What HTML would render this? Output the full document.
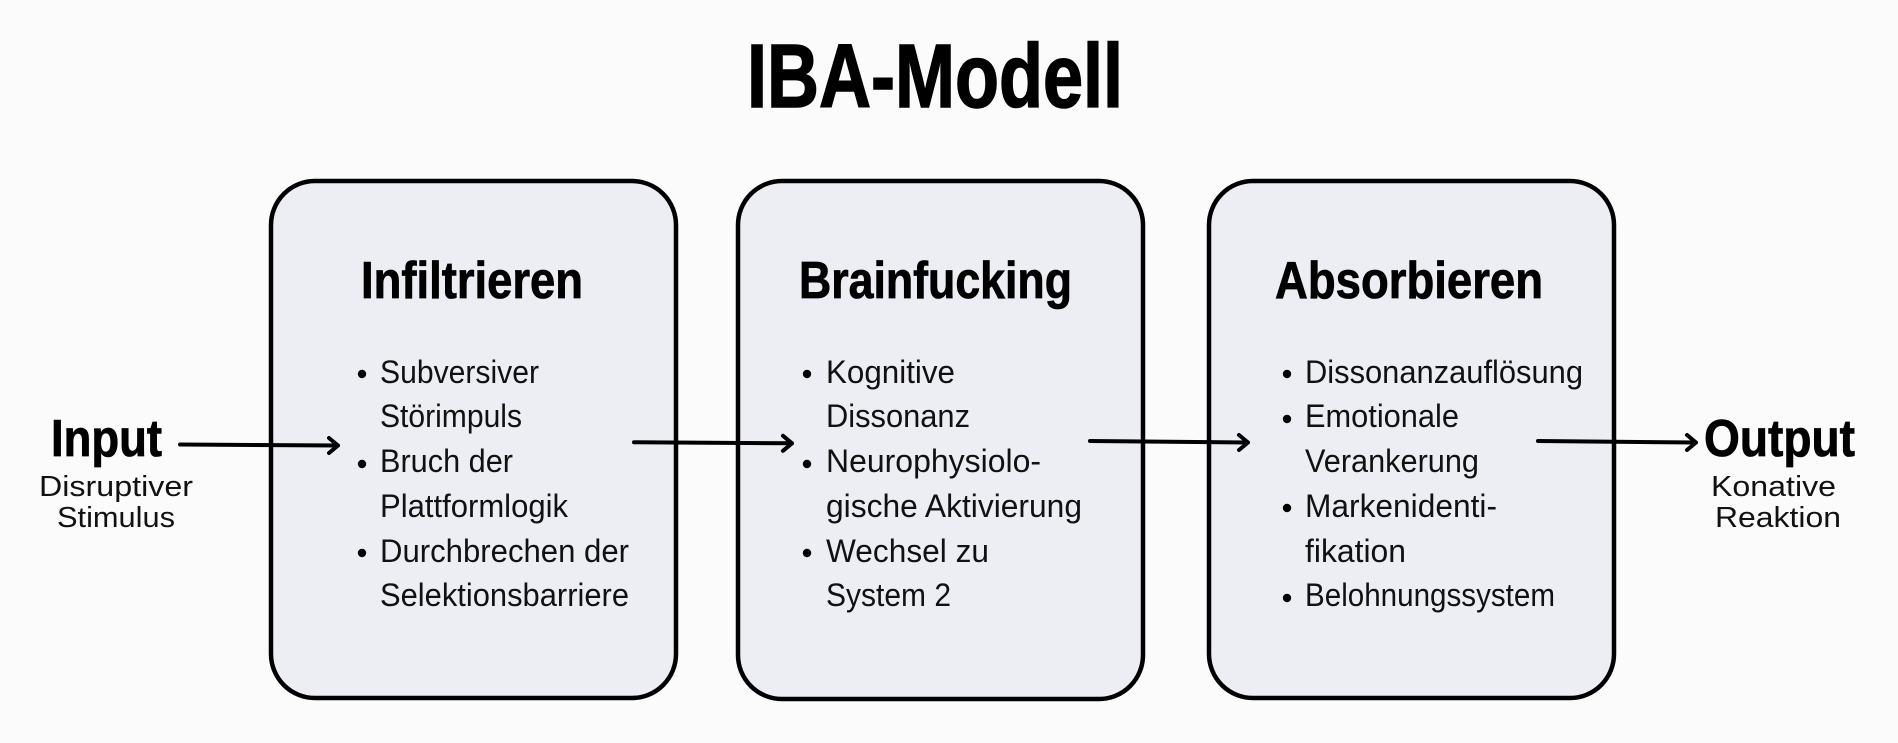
<!DOCTYPE html>
<html lang="de">
<head>
<meta charset="utf-8">
<title>IBA-Modell</title>
<style>
html,body{margin:0;padding:0;background:#fbfbfc;width:1898px;height:743px;overflow:hidden}
svg{display:block}
text{font-family:"Liberation Sans",sans-serif;fill:#000}
.t{font-weight:700;font-size:90px;stroke:#000;stroke-width:1.5}
.h{font-weight:700;font-size:52px;stroke:#000;stroke-width:.8}
.b{font-size:32px;fill:#111}
.s{font-size:29px;fill:#111}
.box{fill:#edeef4;stroke:#000;stroke-width:4.5}
.ar{fill:none;stroke:#000;stroke-width:4;stroke-linecap:round;stroke-linejoin:round}
</style>
</head>
<body>
<svg width="1898" height="743" viewBox="0 0 1898 743" xmlns="http://www.w3.org/2000/svg">
<rect width="1898" height="743" fill="#fbfbfc"/>

<text class="t" x="747" y="107" textLength="376" lengthAdjust="spacingAndGlyphs">IBA-Modell</text>

<rect class="box" x="271" y="181" width="405" height="517" rx="44"/>
<rect class="box" x="738" y="181" width="405" height="518" rx="44"/>
<rect class="box" x="1209" y="181" width="405" height="517" rx="44"/>

<text class="h" x="361" y="298" textLength="222" lengthAdjust="spacingAndGlyphs">Infiltrieren</text>
<text class="h" x="799" y="298" textLength="273" lengthAdjust="spacingAndGlyphs">Brainfucking</text>
<text class="h" x="1275" y="298" textLength="268" lengthAdjust="spacingAndGlyphs">Absorbieren</text>

<g fill="#000">
<circle cx="362" cy="374" r="4.2"/><circle cx="362" cy="464" r="4.2"/><circle cx="362" cy="553" r="4.2"/>
<circle cx="807" cy="374" r="4.2"/><circle cx="807" cy="464" r="4.2"/><circle cx="807" cy="553" r="4.2"/>
<circle cx="1287" cy="374" r="4.2"/><circle cx="1287" cy="419" r="4.2"/><circle cx="1287" cy="508" r="4.2"/><circle cx="1287" cy="598" r="4.2"/>
</g>

<text class="b" x="380" y="383" textLength="159" lengthAdjust="spacingAndGlyphs">Subversiver</text>
<text class="b" x="380" y="427" textLength="142" lengthAdjust="spacingAndGlyphs">Störimpuls</text>
<text class="b" x="380" y="472" textLength="133" lengthAdjust="spacingAndGlyphs">Bruch der</text>
<text class="b" x="380" y="517" textLength="188" lengthAdjust="spacingAndGlyphs">Plattformlogik</text>
<text class="b" x="380" y="562" textLength="249" lengthAdjust="spacingAndGlyphs">Durchbrechen der</text>
<text class="b" x="380" y="606" textLength="249" lengthAdjust="spacingAndGlyphs">Selektionsbarriere</text>

<text class="b" x="826" y="383" textLength="129" lengthAdjust="spacingAndGlyphs">Kognitive</text>
<text class="b" x="826" y="427" textLength="144" lengthAdjust="spacingAndGlyphs">Dissonanz</text>
<text class="b" x="826" y="472" textLength="215" lengthAdjust="spacingAndGlyphs">Neurophysiolo-</text>
<text class="b" x="826" y="517" textLength="256" lengthAdjust="spacingAndGlyphs">gische Aktivierung</text>
<text class="b" x="826" y="562" textLength="163" lengthAdjust="spacingAndGlyphs">Wechsel zu</text>
<text class="b" x="826" y="606" textLength="125" lengthAdjust="spacingAndGlyphs">System 2</text>

<text class="b" x="1305" y="383" textLength="278" lengthAdjust="spacingAndGlyphs">Dissonanzauflösung</text>
<text class="b" x="1305" y="427" textLength="154" lengthAdjust="spacingAndGlyphs">Emotionale</text>
<text class="b" x="1305" y="472" textLength="174" lengthAdjust="spacingAndGlyphs">Verankerung</text>
<text class="b" x="1305" y="517" textLength="192" lengthAdjust="spacingAndGlyphs">Markenidenti-</text>
<text class="b" x="1305" y="562" textLength="101" lengthAdjust="spacingAndGlyphs">fikation</text>
<text class="b" x="1305" y="606" textLength="250" lengthAdjust="spacingAndGlyphs">Belohnungssystem</text>

<text class="h" x="51" y="456" textLength="111" lengthAdjust="spacingAndGlyphs">Input</text>
<text class="s" x="39" y="496" textLength="154" lengthAdjust="spacingAndGlyphs">Disruptiver</text>
<text class="s" x="57" y="527" textLength="118" lengthAdjust="spacingAndGlyphs">Stimulus</text>

<text class="h" x="1704" y="456" textLength="151" lengthAdjust="spacingAndGlyphs">Output</text>
<text class="s" x="1711" y="496" textLength="125" lengthAdjust="spacingAndGlyphs">Konative</text>
<text class="s" x="1715" y="527" textLength="126" lengthAdjust="spacingAndGlyphs">Reaktion</text>

<g class="ar">
<path d="M180 444.5L338 445.5M329 438L338 445.5L329 453"/>
<path d="M634 442.3L792 443.3M783 435.8L792 443.3L783 450.8"/>
<path d="M1090 441L1248 442.5M1239 435L1248 442.5L1239 450"/>
<path d="M1538 441L1696 442.5M1687 435L1696 442.5L1687 450"/>
</g>
</svg>
</body>
</html>
